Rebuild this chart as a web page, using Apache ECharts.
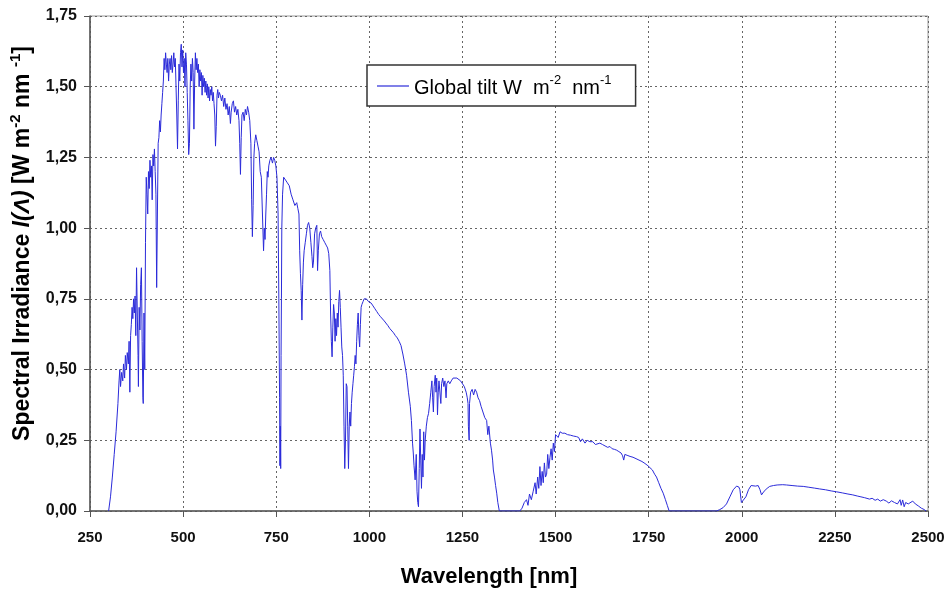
<!DOCTYPE html>
<html>
<head>
<meta charset="utf-8">
<script src="https://cdn.jsdelivr.net/npm/echarts@6/dist/echarts.min.js"></script>
<style>
html,body{margin:0;padding:0;background:#fff;}
#chart{width:949px;height:593px;}
</style>
</head>
<body>
<div id="chart"></div>
<script>
// Wavelength [nm]
var wavelength = [
300,305,310,315,320,325,328,330,332,335,338,340,343,345,348,350,353,355,357,359,361,363,365,367,369,371,373,375,377,379,380,382,384,386,388,390,392,393,395,397,399,
401,403,405,407,409,411,413,415,417,419,421,423,425,427,429,431,433,435,437,439,441,443,445,447,449,451,453,455,457,459,461,463,465,467,469,471,473,475,477,479,481,483,485,487,489,491,493,495,497,499,
501,503,505,507,509,511,513,515,517,519,521,523,525,527,529,531,533,535,537,539,541,543,545,547,549,551,553,555,557,559,561,563,565,567,569,571,573,575,577,579,581,583,585,587,589,591,593,595,597,
600,603,606,609,612,615,618,621,624,627,629,632,635,638,641,644,647,650,652,654,656,658,661,664,667,670,673,676,679,682,684,686,688,690,692,695,698,
701,704,707,710,713,716,718,720,722,724,726,728,730,733,736,740,743,746,749,752,755,757,759,760,761,762,763,764,765,767,770,775,780,785,790,795,
800,805,808,811,813,815,817,819,821,823,825,828,831,834,837,840,843,846,848,850,853,856,859,861,863,866,869,872,876,880,884,888,891,894,896,898,
900,902,904,906,908,910,912,914,916,918,920,922,924,926,928,930,932,934,936,938,940,942,944,946,948,950,952,954,956,958,960,962,964,966,968,970,972,974,976,978,980,983,986,989,992,995,998,
1000,1005,1010,1015,1020,1025,1030,1035,1040,1045,1050,1055,1060,1065,1070,1075,1080,1085,1090,1095,
1100,1105,1110,1113,1116,1118,1120,1123,1126,1128,1130,1132,1134,1136,1138,1140,1142,1144,1146,1148,1150,1153,1156,1159,1162,1165,1168,1170,1172,1174,1177,1179,1181,1183,1185,1187,1190,1192,1194,1197,
1200,1203,1206,1208,1212,1216,1220,1225,1230,1235,1240,1245,1250,1255,1260,1263,1265,1266,1268,1269,1272,1276,1280,1284,1288,1292,1296,
1300,1305,1310,1315,1318,1321,1325,1328,1331,1333,1336,1339,1342,1345,1349,
1404,1410,1416,1422,1426,1430,1435,1440,1445,1448,1452,1455,1458,1461,1464,1467,1470,1473,1476,1479,1482,1485,1488,1491,1494,1497,
1500,1503,1507,1512,1518,1525,1532,1540,1548,1556,1562,1567,1572,1579,1585,1592,
1600,1607,1612,1619,1626,1633,1640,1646,1652,1658,1664,1670,1676,1680,1683,1686,1692,
1700,1708,1716,1724,1732,1740,1748,1753,1760,1766,1771,1777,1783,1789,1795,
1800,1805,1932,1941,1950,1959,1968,1977,1986,1992,1995,1999,
2004,2011,2018,2025,2030,2037,2044,2049,2053,2060,2068,2075,2085,2095,2110,2120,2135,2150,2165,2180,2195,
2209,2225,2240,2254,2270,2285,2298,2310,2320,2330,2343,2350,2358,2365,2372,2380,2388,2395,
2402,2410,2418,2425,2428,2432,2436,2440,2447,2452,2459,2466,2474,2482,2490,2495
];
// Global tilt spectral irradiance [W m-2 nm-1]
var irradiance = [
0,0.05,0.12,0.2,0.28,0.38,0.46,0.50,0.44,0.49,0.46,0.52,0.47,0.55,0.50,0.56,0.52,0.60,0.42,0.62,0.66,0.72,0.68,0.75,0.70,0.76,0.62,0.86,0.70,0.55,0.44,0.72,0.64,0.80,0.86,0.60,0.40,0.38,0.70,0.50,0.95,
1.18,1.12,1.05,1.20,1.14,1.24,1.18,1.22,1.10,1.26,1.22,1.28,1.20,1.12,0.79,1.05,1.30,1.32,1.38,1.34,1.40,1.44,1.48,1.52,1.60,1.56,1.62,1.58,1.55,1.60,1.52,1.58,1.60,1.56,1.61,1.55,1.58,1.62,1.57,1.60,1.50,1.40,1.28,1.45,1.58,1.52,1.62,1.65,1.57,1.63,
1.55,1.60,1.50,1.62,1.58,1.48,1.38,1.26,1.30,1.50,1.58,1.52,1.60,1.55,1.35,1.52,1.62,1.56,1.60,1.55,1.58,1.50,1.56,1.52,1.55,1.47,1.54,1.50,1.53,1.48,1.52,1.47,1.51,1.46,1.50,1.45,1.49,1.47,1.50,1.45,1.48,1.44,1.40,1.29,1.36,1.47,1.49,1.46,1.48,
1.47,1.45,1.47,1.43,1.46,1.42,1.44,1.40,1.43,1.37,1.41,1.44,1.45,1.41,1.43,1.40,1.42,1.38,1.30,1.19,1.32,1.40,1.41,1.38,1.42,1.40,1.43,1.41,1.38,1.30,1.10,0.97,1.08,1.25,1.30,1.33,1.31,
1.29,1.27,1.20,1.18,1.05,0.92,1.00,0.96,1.05,1.12,1.20,1.18,1.22,1.24,1.25,1.23,1.25,1.24,1.22,1.18,1.05,0.75,0.40,0.16,0.30,0.15,0.55,0.75,1.00,1.12,1.18,1.17,1.16,1.15,1.12,1.10,
1.08,1.09,1.07,1.05,0.92,0.84,0.78,0.675,0.80,0.88,0.92,0.95,0.98,1.01,1.02,1.00,0.95,0.90,0.86,0.88,0.98,1.00,1.01,0.85,0.92,0.98,0.99,0.97,0.96,0.95,0.94,0.93,0.91,0.85,0.70,0.60,
0.545,0.65,0.73,0.70,0.60,0.68,0.62,0.70,0.65,0.74,0.78,0.72,0.65,0.58,0.55,0.48,0.30,0.15,0.25,0.45,0.44,0.30,0.15,0.30,0.35,0.30,0.38,0.42,0.45,0.48,0.51,0.55,0.52,0.60,0.66,0.70,0.62,0.58,0.66,0.72,0.73,0.74,0.75,0.755,0.75,0.745,0.74,
0.745,0.735,0.725,0.715,0.705,0.695,0.687,0.68,0.672,0.665,0.655,0.645,0.638,0.63,0.62,0.612,0.60,0.585,0.555,0.52,
0.48,0.42,0.37,0.32,0.24,0.205,0.16,0.11,0.20,0.07,0.03,0.015,0.15,0.29,0.18,0.08,0.20,0.12,0.28,0.18,0.25,0.30,0.33,0.345,0.38,0.42,0.46,0.40,0.35,0.44,0.48,0.42,0.47,0.34,0.42,0.46,0.46,0.38,0.45,0.47,
0.44,0.46,0.40,0.45,0.46,0.45,0.46,0.47,0.465,0.47,0.465,0.46,0.455,0.44,0.42,0.40,0.38,0.30,0.25,0.38,0.42,0.43,0.41,0.43,0.42,0.40,0.39,
0.37,0.35,0.33,0.32,0.27,0.30,0.24,0.215,0.18,0.145,0.12,0.09,0.063,0.03,0,
0,0.01,0.03,0.04,0.02,0.06,0.04,0.07,0.10,0.06,0.12,0.08,0.157,0.09,0.14,0.10,0.17,0.12,0.13,0.20,0.15,0.19,0.22,0.18,0.24,0.21,
0.27,0.275,0.26,0.28,0.275,0.275,0.27,0.268,0.265,0.263,0.26,0.245,0.255,0.24,0.25,0.245,
0.245,0.235,0.242,0.24,0.235,0.23,0.225,0.228,0.22,0.218,0.215,0.21,0.205,0.195,0.18,0.20,0.197,
0.193,0.19,0.185,0.18,0.175,0.168,0.16,0.157,0.145,0.13,0.12,0.10,0.08,0.063,0.04,
0.02,0,0,0.005,0.012,0.025,0.05,0.075,0.088,0.085,0.075,0.03,
0.035,0.05,0.075,0.09,0.092,0.088,0.09,0.075,0.057,0.07,0.08,0.087,0.09,0.092,0.093,0.092,0.09,0.088,0.087,0.084,0.081,
0.078,0.075,0.071,0.068,0.064,0.06,0.057,0.053,0.05,0.047,0.042,0.045,0.038,0.042,0.035,0.04,0.035,0.028,
0.036,0.03,0.025,0.04,0.02,0.039,0.015,0.03,0.025,0.03,0.035,0.025,0.018,0.01,0.005,0
];
var seriesName = 'Global tilt W m-2 nm-1';
var xTicks = {min: 250, max: 2500, step: 250};
var yTicks = {min: 0, max: 1.75, step: 0.25};

var data = wavelength.map(function (w, i) { return [w, irradiance[i]]; });
var FONT = '"Liberation Sans", Arial, sans-serif';
var chart = echarts.init(document.getElementById('chart'), null, {renderer: 'canvas'});
chart.setOption({
  animation: false,
  backgroundColor: '#fff',
  grid: {left: 89.5, right: 21, top: 16, bottom: 82, show: true, borderColor: '#9a9a9a', borderWidth: 1},
  legend: {
    left: 367, top: 65,
    orient: 'horizontal',
    padding: [9, 24, 8, 10],
    borderColor: '#333', borderWidth: 1.5,
    backgroundColor: '#fff',
    itemWidth: 32, itemHeight: 10,
    formatter: function () {
      return '{a|Global tilt W  m}{s|-2}{a|  nm}{s|-1}';
    },
    textStyle: {
      fontFamily: FONT,
      rich: {
        a: {fontSize: 20, color: '#000', fontFamily: FONT, verticalAlign: 'bottom', lineHeight: 24},
        s: {fontSize: 13, color: '#000', fontFamily: FONT, verticalAlign: 'top', lineHeight: 24, padding: [0, 0, 9, 0]}
      }
    },
    data: [{name: seriesName, icon: 'path://M0,0 L32,0 L32,1.2 L0,1.2 Z'}]
  },
  xAxis: {
    type: 'value', min: xTicks.min, max: xTicks.max, interval: xTicks.step,
    name: 'Wavelength [nm]', nameLocation: 'middle', nameGap: 55,
    nameTextStyle: {fontFamily: FONT, fontSize: 22, fontWeight: 'bold', color: '#000', padding: [0, 40, 0, 0]},
    axisLine: {show: true, lineStyle: {color: '#555', width: 1.5}},
    axisTick: {show: true, length: 6, lineStyle: {color: '#555'}},
    axisLabel: {
      fontFamily: FONT, fontSize: 15, fontWeight: 'bold', color: '#111', margin: 19,
      formatter: function (v) { return String(v); }
    },
    splitLine: {show: true, lineStyle: {color: '#666', type: [2, 3], width: 1}}
  },
  yAxis: {
    type: 'value', min: yTicks.min, max: yTicks.max, interval: yTicks.step,
    name: '{b|Spectral Irradiance }{i|I(Λ)}{b| [W m}{s|-2}{b| nm }{s|-1}{b|]}',
    nameLocation: 'middle', nameGap: 56, nameRotate: 90,
    nameTextStyle: {
      fontFamily: FONT, color: '#000', padding: [0, 0, 0, 40],
      rich: {
        b: {fontSize: 23, fontWeight: 'bold', color: '#000', fontFamily: FONT, verticalAlign: 'bottom', lineHeight: 26},
        i: {fontSize: 23, fontWeight: 'bold', fontStyle: 'italic', color: '#000', fontFamily: FONT, verticalAlign: 'bottom', lineHeight: 26},
        s: {fontSize: 15, fontWeight: 'bold', color: '#000', fontFamily: FONT, verticalAlign: 'top', lineHeight: 26, padding: [0, 0, 10, 0]}
      }
    },
    axisLine: {show: true, lineStyle: {color: '#555', width: 1.5}},
    axisTick: {show: true, length: 6, lineStyle: {color: '#555'}},
    axisLabel: {
      fontFamily: FONT, fontSize: 16, fontWeight: 'bold', color: '#111', margin: 13,
      formatter: function (v) { return v.toFixed(2).replace('.', ','); }
    },
    splitLine: {show: true, lineStyle: {color: '#666', type: [2, 3], width: 1}}
  },
  series: [{
    name: seriesName,
    type: 'line',
    data: data,
    symbol: 'none',
    lineStyle: {color: '#2b2bd9', width: 1},
    itemStyle: {color: '#2b2bd9'}
  }]
});
</script>
</body>
</html>
